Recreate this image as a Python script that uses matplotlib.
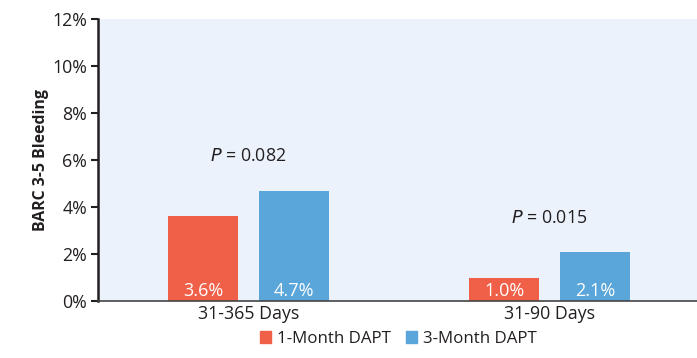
import numpy as np
import matplotlib.pyplot as plt
from matplotlib.patches import Patch

plt.rcParams['font.family'] = ['Open Sans', 'DejaVu Sans']

groups = ['31-365 Days', '31-90 Days']
series = ['1-Month DAPT', '3-Month DAPT']
one_month = [3.6, 1.0]
three_month = [4.7, 2.1]
p_values = ['0.082', '0.015']
y_ticks = [0, 2, 4, 6, 8, 10, 12]

red = '#F05F48'
blue = '#5AA5DA'
bg = '#EBF2FB'
dark = '#231F20'

fig = plt.figure(figsize=(6.97, 3.58), dpi=100)
ax = fig.add_axes([98 / 697, 1 - 301 / 358, 599 / 697, 282 / 358])
ax.set_facecolor(bg)

x = np.arange(len(groups))
w = 0.2326
off = 0.151
b1 = ax.bar(x - off, one_month, w, color=red)
b2 = ax.bar(x + off, three_month, w, color=blue)

for bars, vals in [(b1, one_month), (b2, three_month)]:
    for b, v in zip(bars, vals):
        ax.text(b.get_x() + b.get_width() / 2, 0.42, f'{v:.1f}%', color='white',
                ha='center', va='center', fontsize=13)

for i, p in enumerate(p_values):
    top = max(one_month[i], three_month[i])
    ax.text(x[i], top + 1.45, f'$\\it{{P}}$ = {p}', ha='center', va='center',
            fontsize=12.8, color=dark)

ax.set_xlim(-0.5, 1.49)
ax.set_ylim(0, 12)
ax.set_yticks(y_ticks)
ax.set_yticklabels([f'{t}%' for t in y_ticks], fontsize=12.8, color=dark)
ax.set_xticks(x)
ax.set_xticklabels(groups, fontsize=12.8, color=dark)
ax.tick_params(axis='x', length=0, pad=3)
ax.tick_params(axis='y', length=5, width=1.5, color=dark, pad=3)
ax.set_ylabel('BARC 3-5 Bleeding', fontsize=11.4, fontweight='bold', color=dark, labelpad=2.5)

for s in ['top', 'right']:
    ax.spines[s].set_visible(False)
ax.spines['left'].set_linewidth(1.8)
ax.spines['left'].set_color(dark)
ax.spines['bottom'].set_linewidth(1.2)
ax.spines['bottom'].set_color('#444444')

handles = [Patch(color=red, label=series[0]), Patch(color=blue, label=series[1])]
fig.legend(handles=handles, loc='center', bbox_to_anchor=(398 / 697, 1 - 339 / 358),
           ncol=2, frameon=False, fontsize=12.2, handlelength=0.65, handleheight=0.65,
           handletextpad=0.35, columnspacing=0.9, labelcolor=dark)

fig.savefig('out.png', dpi=100)
